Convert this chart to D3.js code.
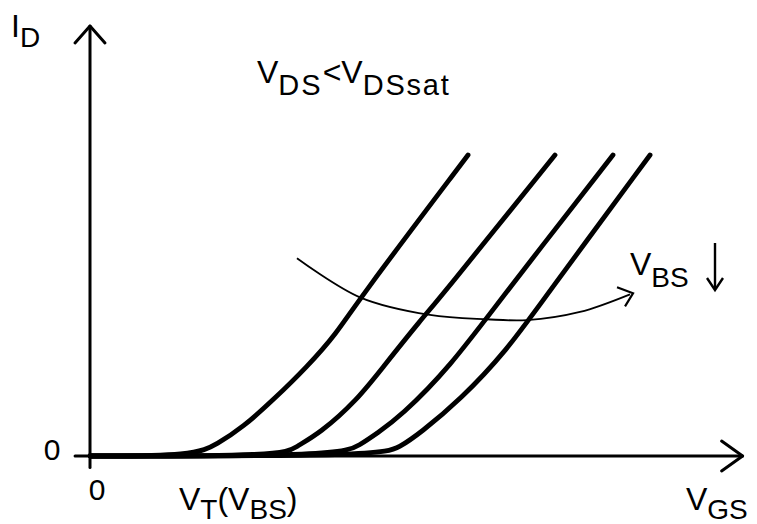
<!DOCTYPE html>
<html>
<head>
<meta charset="utf-8">
<script src="https://cdn.jsdelivr.net/npm/d3@7"></script>
<style>
  html, body { margin: 0; padding: 0; background: #fff; }
  svg { display: block; }
  text { font-family: "Liberation Sans", Arial, sans-serif; fill: #000; }
</style>
</head>
<body>
<svg id="chart" width="757" height="524"></svg>
<script>
// ---- data (arbitrary units) ----
const curveNames = ["VBS1", "VBS2", "VBS3", "VBS4"];
const vgs1 = [0, 0.80, 0.98, 1.177, 1.408, 1.669, 1.9, 2.062, 2.908];
const id1  = [0, 0, 0.028, 0.067, 0.130, 0.207, 0.286, 0.362, 0.70];
const vgs2 = [0, 1.485, 1.58, 1.769, 2.054, 2.254, 2.562, 2.677, 3.577];
const id2  = [0, 0, 0.021, 0.053, 0.130, 0.207, 0.323, 0.362, 0.70];
const vgs3 = [0, 1.923, 2.077, 2.208, 2.385, 2.769, 3.154, 4.023];
const id3  = [0, 0, 0.026, 0.053, 0.091, 0.207, 0.363, 0.70];
const vgs4 = [0, 2.231, 2.385, 2.538, 2.846, 3.208, 3.485, 4.308];
const id4  = [0, 0, 0.021, 0.053, 0.130, 0.246, 0.363, 0.70];
// annotation arc (V_BS decreasing)
const arcV = [1.592, 2.077, 2.615, 3.054, 3.362, 3.769, 4.154];
const arcI = [0.460, 0.369, 0.328, 0.318, 0.316, 0.335, 0.376];
// tick labels
const xTickLabels = ["0"];
const yTickLabels = ["0"];

const svg = d3.select("#chart");
const x = d3.scaleLinear().domain([0, 5]).range([90, 740]);
const y = d3.scaleLinear().domain([0, 1]).range([456, 26]);

const series = [[vgs1, id1], [vgs2, id2], [vgs3, id3], [vgs4, id4]]
  .map(([v, i], k) => ({ name: curveNames[k], pts: v.map((d, j) => [d, i[j]]) }));

const line = d3.line().x(d => x(d[0])).y(d => y(d[1])).curve(d3.curveBasis);

// axes
const axisG = svg.append("g").attr("stroke", "#000").attr("fill", "none")
  .attr("stroke-width", 3).attr("stroke-linecap", "round").attr("stroke-linejoin", "round");
const xEnd = 5.02, yEnd = 1.0;
axisG.append("path").attr("d", d3.line()([[x(-0.115), y(0)], [x(xEnd), y(0)]]));
axisG.append("path").attr("d", d3.line()([[x(xEnd) - 21, y(0) - 15], [x(xEnd), y(0)], [x(xEnd) - 21, y(0) + 15]]));
axisG.append("path").attr("d", d3.line()([[x(0), y(-0.027)], [x(0), y(yEnd)]]));
axisG.append("path").attr("d", d3.line()([[x(0) - 15, y(yEnd) + 17], [x(0), y(yEnd)], [x(0) + 15, y(yEnd) + 17]]));

// curves
svg.append("g").selectAll("path").data(series).join("path")
  .attr("d", d => line(d.pts))
  .attr("fill", "none").attr("stroke", "#000").attr("stroke-width", 4.8)
  .attr("stroke-linecap", "round");

// arc annotation
const arcPts = arcV.map((v, j) => [v, arcI[j]]);
const arcLine = d3.line().x(d => x(d[0])).y(d => y(d[1])).curve(d3.curveCatmullRom);
svg.append("path").attr("d", arcLine(arcPts))
  .attr("fill", "none").attr("stroke", "#000").attr("stroke-width", 1.8);
const tip = [x(arcV[arcV.length - 1]) + 3, y(arcI[arcI.length - 1]) - 1];
svg.append("path")
  .attr("d", d3.line()([[tip[0] - 16, tip[1] - 6], tip, [tip[0] - 8, tip[1] + 13]]))
  .attr("fill", "none").attr("stroke", "#000").attr("stroke-width", 2.2)
  .attr("stroke-linejoin", "miter");

// down arrow next to V_BS
svg.append("path").attr("d", d3.line()([[715, 243], [715, 289]]))
  .attr("stroke", "#000").attr("stroke-width", 2.4).attr("fill", "none");
svg.append("path").attr("d", d3.line()([[707, 278], [715, 290], [723, 278]]))
  .attr("stroke", "#000").attr("stroke-width", 2.4).attr("fill", "none");

// text helper: main + subscript pieces
function label(xp, yp, parts) {
  const t = svg.append("text").attr("x", xp).attr("y", yp);
  parts.forEach(p => {
    const ts = t.append("tspan").text(p.t)
      .attr("font-size", p.fs || (p.sub ? 28 : 32));
    if (p.dy !== undefined) ts.attr("dy", p.dy);
    if (p.ls) ts.attr("letter-spacing", p.ls);
  });
  return t;
}

label(11, 37, [{ t: "I" }, { t: "D", sub: true, dy: 10 }]);
label(257, 83, [{ t: "V" }, { t: "DS", sub: true, fs: 29, dy: 12, ls: 2 },
  { t: "<", dy: -12 }, { t: "V" }, { t: "DSsat", sub: true, fs: 29, dy: 12, ls: 1.8 }]);
label(630, 275, [{ t: "V" }, { t: "BS", sub: true, dy: 12 }]);
label(179, 510, [{ t: "V" }, { t: "T", sub: true, dy: 9 }, { t: "(V", dy: -9 },
  { t: "BS", sub: true, dy: 9 }, { t: ")", dy: -9 }]);
label(686, 510, [{ t: "V" }, { t: "GS", sub: true, dy: 9 }]);

// tick labels
svg.append("text").attr("x", 52).attr("y", y(0) + 4).attr("text-anchor", "middle")
  .attr("font-size", 30).text(yTickLabels[0]);
svg.append("text").attr("x", x(0) + 7).attr("y", 500).attr("text-anchor", "middle")
  .attr("font-size", 30).text(xTickLabels[0]);
</script>
</body>
</html>
